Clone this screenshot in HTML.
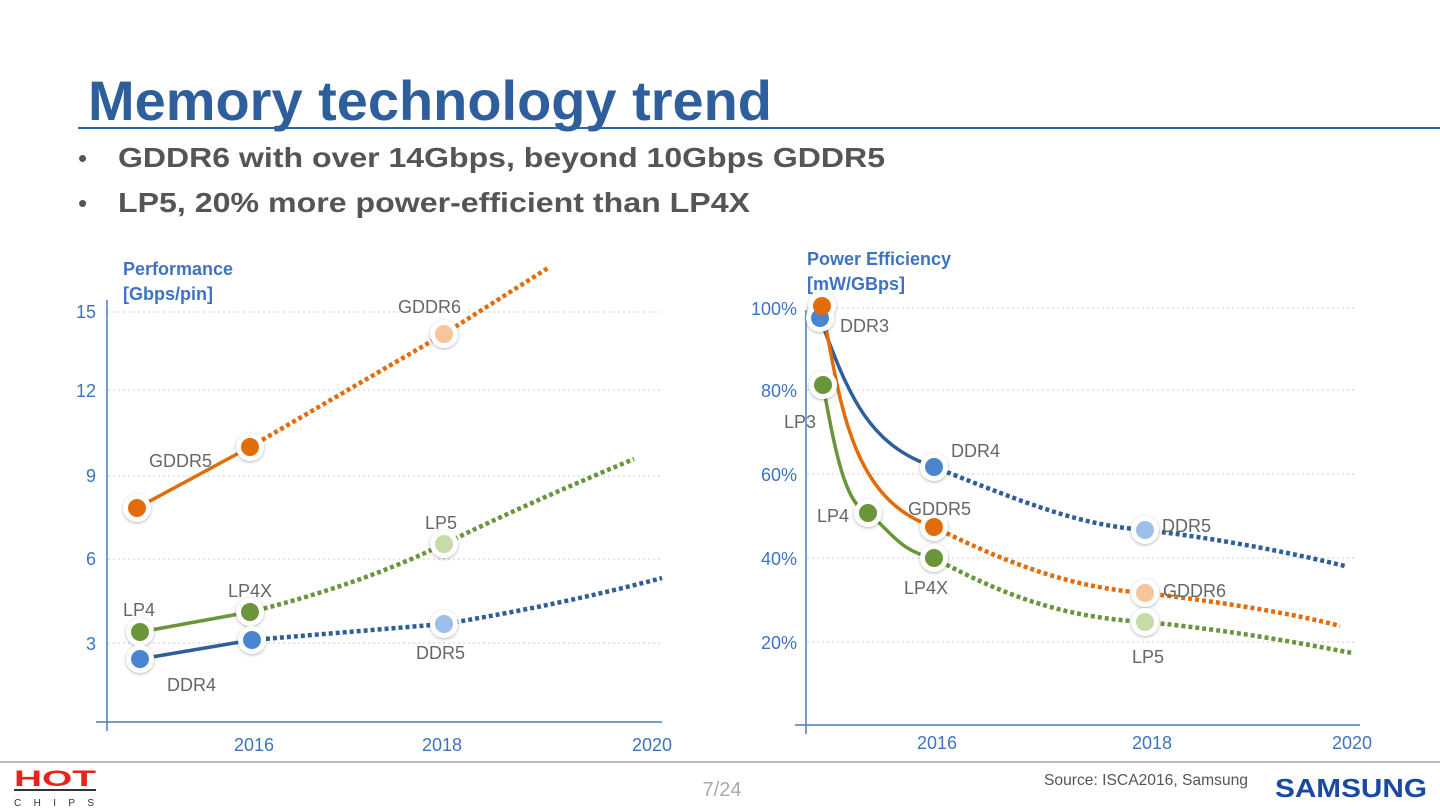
<!DOCTYPE html>
<html><head><meta charset="utf-8"><style>
html,body{margin:0;padding:0;background:#fff;}
svg{display:block;font-family:"Liberation Sans",Arial,sans-serif;}
</style></head><body>
<svg width="1440" height="809" viewBox="0 0 1440 809" xmlns="http://www.w3.org/2000/svg">
<defs>
<filter id="sh" x="-50%" y="-50%" width="200%" height="200%"><feDropShadow dx="0" dy="1" stdDeviation="1.5" flood-color="#000" flood-opacity="0.3"/></filter>
</defs>
<text x="88" y="120" font-size="56" font-weight="bold" fill="#2e5f9c" textLength="684" lengthAdjust="spacingAndGlyphs">Memory technology trend</text>
<line x1="78" y1="128" x2="1440" y2="128" stroke="#2e63a8" stroke-width="2"/>
<text x="78" y="167" font-size="26" fill="#555">•</text>
<text x="118" y="167" font-size="28" font-weight="bold" fill="#555" textLength="767" lengthAdjust="spacingAndGlyphs">GDDR6 with over 14Gbps, beyond 10Gbps GDDR5</text>
<text x="78" y="212" font-size="26" fill="#555">•</text>
<text x="118" y="212" font-size="28" font-weight="bold" fill="#555" textLength="632" lengthAdjust="spacingAndGlyphs">LP5, 20% more power-efficient than LP4X</text>

<g font-size="18" fill="#3f73bf">
<text x="123" y="275" font-weight="bold">Performance</text>
<text x="123" y="300" font-weight="bold">[Gbps/pin]</text>
<text x="96" y="318" text-anchor="end">15</text>
<text x="96" y="397" text-anchor="end">12</text>
<text x="96" y="482" text-anchor="end">9</text>
<text x="96" y="565" text-anchor="end">6</text>
<text x="96" y="650" text-anchor="end">3</text>
<text x="254" y="751" text-anchor="middle">2016</text>
<text x="442" y="751" text-anchor="middle">2018</text>
<text x="652" y="751" text-anchor="middle">2020</text>
</g>
<g stroke="#ccc" stroke-width="1" stroke-dasharray="2,3">
<line x1="108" y1="312" x2="660" y2="312"/><line x1="108" y1="390" x2="660" y2="390"/>
<line x1="108" y1="476" x2="660" y2="476"/><line x1="108" y1="559" x2="660" y2="559"/>
<line x1="108" y1="643" x2="660" y2="643"/>
</g>
<line x1="107" y1="300" x2="107" y2="731" stroke="#4a7cc0" stroke-width="1.5"/>
<line x1="96" y1="722" x2="662" y2="722" stroke="#4a7cc0" stroke-width="1.5"/>
<line x1="137" y1="508" x2="250" y2="447" stroke="#e36c0a" stroke-width="3.5"/>
<path d="M250 447 L444 334 L548 268" stroke="#e36c0a" stroke-width="4.5" stroke-dasharray="4,3" fill="none"/>
<line x1="140" y1="632" x2="250" y2="612" stroke="#6a953a" stroke-width="3.5"/>
<path d="M250 612 Q360 585 444 544 T634 459" stroke="#6a953a" stroke-width="4.5" stroke-dasharray="4,3" fill="none"/>
<line x1="140" y1="659" x2="252" y2="640" stroke="#2f5f9a" stroke-width="3.5"/>
<path d="M252 640 L444 624 Q560 605 662 578" stroke="#2f5f9a" stroke-width="4.5" stroke-dasharray="4,3" fill="none"/>
<g filter="url(#sh)" fill="#fff">
<circle cx="137" cy="508" r="14"/><circle cx="250" cy="447" r="14"/><circle cx="444" cy="334" r="14"/>
<circle cx="140" cy="632" r="14"/><circle cx="250" cy="612" r="14"/><circle cx="444" cy="544" r="14"/>
<circle cx="140" cy="659" r="14"/><circle cx="252" cy="640" r="14"/><circle cx="444" cy="624" r="14"/>
</g>
<circle cx="137" cy="508" r="9" fill="#e36c0a"/><circle cx="250" cy="447" r="9" fill="#e36c0a"/><circle cx="444" cy="334" r="9" fill="#f8c49a"/>
<circle cx="140" cy="632" r="9" fill="#6a953a"/><circle cx="250" cy="612" r="9" fill="#6a953a"/><circle cx="444" cy="544" r="9" fill="#c6dba8"/>
<circle cx="140" cy="659" r="9" fill="#4a86d0"/><circle cx="252" cy="640" r="9" fill="#4a86d0"/><circle cx="444" cy="624" r="9" fill="#9dbfe8"/>
<g font-size="18" fill="#666">
<text x="398" y="313">GDDR6</text><text x="149" y="467">GDDR5</text><text x="425" y="529">LP5</text>
<text x="228" y="597">LP4X</text><text x="123" y="616">LP4</text><text x="416" y="659">DDR5</text><text x="167" y="691">DDR4</text>
</g>

<g font-size="18" fill="#3f73bf">
<text x="807" y="265" font-weight="bold">Power Efficiency</text>
<text x="807" y="290" font-weight="bold">[mW/GBps]</text>
<text x="797" y="315" text-anchor="end">100%</text>
<text x="797" y="397" text-anchor="end">80%</text>
<text x="797" y="481" text-anchor="end">60%</text>
<text x="797" y="565" text-anchor="end">40%</text>
<text x="797" y="649" text-anchor="end">20%</text>
<text x="937" y="749" text-anchor="middle">2016</text>
<text x="1152" y="749" text-anchor="middle">2018</text>
<text x="1352" y="749" text-anchor="middle">2020</text>
</g>
<g stroke="#ccc" stroke-width="1" stroke-dasharray="2,3">
<line x1="807" y1="308" x2="1355" y2="308"/><line x1="807" y1="390" x2="1355" y2="390"/>
<line x1="807" y1="474" x2="1355" y2="474"/><line x1="807" y1="558" x2="1355" y2="558"/>
<line x1="807" y1="642" x2="1355" y2="642"/>
</g>
<line x1="806" y1="310" x2="806" y2="734" stroke="#4a7cc0" stroke-width="1.5"/>
<line x1="795" y1="725" x2="1360" y2="725" stroke="#4a7cc0" stroke-width="1.5"/>
<path d="M820 318 C850 400 870 445 934 467" stroke="#2f5f9a" stroke-width="3.5" fill="none"/>
<path d="M822 306 C840 400 850 500 934 527" stroke="#e36c0a" stroke-width="3.5" fill="none"/>
<path d="M823 385 C835 450 845 505 868 513 C890 530 900 552 934 558" stroke="#6a953a" stroke-width="3.5" fill="none"/>
<path d="M934 467 C1030 505 1080 525 1145 530 C1230 540 1300 555 1345 566" stroke="#2f5f9a" stroke-width="4.5" stroke-dasharray="4,3" fill="none"/>
<path d="M934 527 C1020 570 1080 588 1145 593 C1230 603 1300 615 1340 626" stroke="#e36c0a" stroke-width="4.5" stroke-dasharray="4,3" fill="none"/>
<path d="M934 558 C1020 605 1080 618 1145 622 C1230 630 1300 643 1352 653" stroke="#6a953a" stroke-width="4.5" stroke-dasharray="4,3" fill="none"/>
<g filter="url(#sh)" fill="#fff">
<circle cx="820" cy="318" r="14"/><circle cx="822" cy="306" r="14"/><circle cx="823" cy="385" r="14"/>
<circle cx="868" cy="513" r="14"/><circle cx="934" cy="467" r="14"/><circle cx="934" cy="527" r="14"/><circle cx="934" cy="558" r="14"/>
<circle cx="1145" cy="530" r="14"/><circle cx="1145" cy="593" r="14"/><circle cx="1145" cy="622" r="14"/>
</g>
<circle cx="820" cy="318" r="9" fill="#4a86d0"/><circle cx="822" cy="306" r="9" fill="#e36c0a"/><circle cx="823" cy="385" r="9" fill="#6a953a"/>
<circle cx="868" cy="513" r="9" fill="#6a953a"/><circle cx="934" cy="467" r="9" fill="#4a86d0"/><circle cx="934" cy="527" r="9" fill="#e36c0a"/><circle cx="934" cy="558" r="9" fill="#6a953a"/>
<circle cx="1145" cy="530" r="9" fill="#9dbfe8"/><circle cx="1145" cy="593" r="9" fill="#f8c49a"/><circle cx="1145" cy="622" r="9" fill="#c6dba8"/>
<g font-size="18" fill="#666">
<text x="840" y="332">DDR3</text><text x="784" y="428">LP3</text><text x="951" y="457">DDR4</text>
<text x="908" y="515">GDDR5</text><text x="817" y="522">LP4</text><text x="904" y="594">LP4X</text>
<text x="1162" y="532">DDR5</text><text x="1163" y="597">GDDR6</text><text x="1132" y="663">LP5</text>
</g>

<line x1="0" y1="762" x2="1440" y2="762" stroke="#bbb" stroke-width="2"/>
<text x="14" y="786" font-size="22" font-weight="bold" fill="#e8231c" textLength="82" lengthAdjust="spacingAndGlyphs">HOT</text>
<line x1="14" y1="790" x2="96" y2="790" stroke="#333" stroke-width="2"/>
<text x="14" y="806" font-size="10" fill="#333" textLength="80" lengthAdjust="spacing">C H I P S</text>
<text x="722" y="796" font-size="20" fill="#aaa" text-anchor="middle">7/24</text>
<text x="1044" y="785" font-size="16" fill="#555" textLength="204" lengthAdjust="spacingAndGlyphs">Source: ISCA2016, Samsung</text>
<text x="1275" y="797" font-size="26" font-weight="bold" fill="#1a4aa0" textLength="152" lengthAdjust="spacingAndGlyphs">SAMSUNG</text>
</svg>
</body></html>
